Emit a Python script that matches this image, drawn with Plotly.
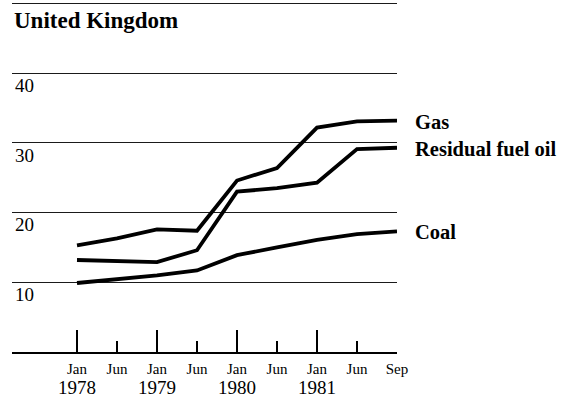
import plotly.graph_objects as go

# ---- data ----
periods = ["Jan 1978", "Jun 1978", "Jan 1979", "Jun 1979", "Jan 1980",
           "Jun 1980", "Jan 1981", "Jun 1981", "Sep 1981"]
month_labels = ["Jan", "Jun", "Jan", "Jun", "Jan", "Jun", "Jan", "Jun", "Sep"]
year_labels = ["1978", "1979", "1980", "1981"]
year_positions = [0, 2, 4, 6]
minor_positions = [1, 3, 5, 7, 8]
series_names = ["Gas", "Residual fuel oil", "Coal"]
gas = [15.3, 16.3, 17.6, 17.4, 24.6, 26.4, 32.2, 33.1, 33.2]
resid = [13.2, 13.0, 12.9, 14.6, 23.0, 23.5, 24.3, 29.1, 29.3]
coal = [9.9, 10.4, 11.0, 11.7, 13.9, 15.0, 16.1, 16.9, 17.3]
y_ticks = [10, 20, 30, 40, 50]
y_ticktext = ["10", "20", "30", "40", ""]

x = list(range(len(periods)))
SERIF = "Liberation Serif, Times New Roman, serif"

fig = go.Figure()
for name, vals in zip(series_names, [gas, resid, coal]):
    fig.add_trace(go.Scatter(x=x, y=vals, mode="lines", name=name,
                             line=dict(color="black", width=3.8),
                             showlegend=False, hoverinfo="skip"))
# dummy trace to activate the tick axis
fig.add_trace(go.Scatter(x=[x[0]], y=[None], xaxis="x2", mode="lines",
                         showlegend=False, hoverinfo="skip"))

xr = [-1.625, 8]
fig.update_layout(
    width=566, height=402,
    margin=dict(l=12, r=169, t=0, b=50),
    paper_bgcolor="white", plot_bgcolor="white",
    font=dict(family=SERIF, color="black"),
    xaxis=dict(range=xr, tickvals=x, ticktext=month_labels, ticks="",
               showgrid=False, zeroline=False, showline=True,
               linecolor="black", linewidth=2,
               tickfont=dict(size=15, family=SERIF, color="black"),
               ticklabelstandoff=2, fixedrange=True),
    xaxis2=dict(range=xr, overlaying="x", anchor="y", side="bottom",
                tickvals=year_positions, ticks="inside", ticklen=22,
                tickwidth=2, tickcolor="black", showticklabels=False,
                showgrid=False, zeroline=False, showline=False,
                minor=dict(tickvals=minor_positions, ticks="inside",
                           ticklen=11, tickwidth=2, tickcolor="black",
                           showgrid=False),
                fixedrange=True),
    yaxis=dict(range=[0, 50.5], tickvals=y_ticks, ticktext=y_ticktext,
               showgrid=True, gridcolor="#1a1a1a", gridwidth=1.3,
               zeroline=False, showline=False, ticks="",
               ticklabelposition="inside", ticklabelstandoff=0,
               ticklabelshift=12,
               tickfont=dict(size=19, family=SERIF, color="black"),
               fixedrange=True),
)

annotations = []
annotations.append(dict(text="<b>United Kingdom</b>", xref="paper", yref="paper",
                        x=0, y=1, xanchor="left", yanchor="middle", yshift=-20,
                        showarrow=False, font=dict(size=23, family=SERIF)))
for pos, yl in zip(year_positions, year_labels):
    annotations.append(dict(text=yl, xref="x", yref="paper", x=pos, y=0,
                            xanchor="center", yanchor="middle", yshift=-35,
                            showarrow=False, font=dict(size=19, family=SERIF)))
for name, vals in zip(series_names, [gas, resid, coal]):
    annotations.append(dict(text="<b>" + name + "</b>", xref="x", yref="y",
                            x=x[-1], y=vals[-1], xanchor="left", yanchor="middle",
                            xshift=16, yshift=-1, showarrow=False,
                            font=dict(size=20.5, family=SERIF)))
fig.update_layout(annotations=annotations)

fig.write_html("out.html", config={"displayModeBar": False},
               post_script="document.body.style.margin='0';document.body.style.overflow='hidden';")
